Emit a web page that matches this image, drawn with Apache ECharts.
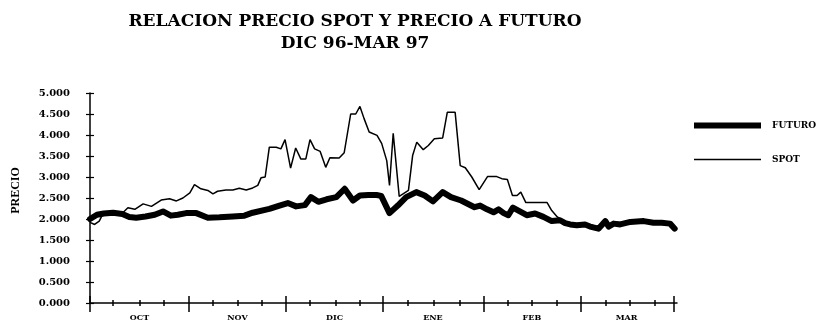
<!DOCTYPE html>
<html>
<head>
<meta charset="utf-8">
<title>Relacion precio spot y precio a futuro</title>
<script src="https://cdn.jsdelivr.net/npm/echarts@6/dist/echarts.min.js"></script>
<style>
  html, body { margin: 0; padding: 0; background: #fff; }
  #grafica { width: 821px; height: 324px; }
</style>
</head>
<body>
<div id="grafica"></div>
<script>
// [dia habil desde inicio de octubre, precio]
const futuro = [
  [0, 2.0], [1.5, 2.1], [3, 2.13], [5, 2.15], [7, 2.12], [8.5, 2.05], [10, 2.03], [12, 2.06],
  [14, 2.1], [15.8, 2.18], [17.5, 2.08], [19, 2.1], [20.8, 2.14], [23, 2.14], [25.5, 2.03],
  [28, 2.04], [30.9, 2.06], [33.4, 2.08], [35.2, 2.15], [38.8, 2.24], [41, 2.32], [42.8, 2.38],
  [44.6, 2.3], [46.5, 2.33], [47.8, 2.52], [49.4, 2.41], [51.2, 2.47], [53.3, 2.52], [55.1, 2.72],
  [56.9, 2.44], [58.4, 2.56], [60.2, 2.57], [62, 2.57], [63, 2.55], [64.8, 2.14], [66.6, 2.32],
  [68.4, 2.52], [70.6, 2.64], [72.4, 2.56], [74.2, 2.42], [76.3, 2.64], [78.1, 2.52], [80.3, 2.44],
  [83.2, 2.28], [84.4, 2.32], [85.9, 2.23], [87.3, 2.16], [88.4, 2.23], [89.5, 2.14], [90.5, 2.09],
  [91.5, 2.27], [92.7, 2.2], [94.5, 2.09], [96.3, 2.13], [98.1, 2.05], [99.9, 1.95], [101.7, 1.97],
  [102.8, 1.9], [103.9, 1.87], [105.3, 1.85], [107.1, 1.87], [108.2, 1.82], [110, 1.77], [111.5, 1.95],
  [112.2, 1.82], [113.3, 1.89], [114.7, 1.87], [116.9, 1.93], [119.8, 1.95], [121.9, 1.91],
  [123.7, 1.91], [125.5, 1.89], [126.5, 1.77]
]
const spot = [
  [0, 1.92], [1, 1.87], [2, 1.95], [2.6, 2.08], [4, 2.15], [6, 2.17], [7.1, 2.15], [8.2, 2.27],
  [9.7, 2.23], [11.5, 2.36], [13.3, 2.3], [15.4, 2.45], [17.2, 2.48], [18.7, 2.43], [20.1, 2.5],
  [21.6, 2.62], [22.6, 2.82], [24, 2.72], [25.5, 2.68], [26.6, 2.6], [27.6, 2.66], [29.4, 2.69],
  [30.9, 2.69], [32.3, 2.73], [33.8, 2.69], [35.2, 2.74], [36.3, 2.8], [37, 2.98], [37.9, 3.0],
  [38.8, 3.71], [40.3, 3.71], [41.3, 3.67], [42.2, 3.89], [43.4, 3.21], [44.5, 3.69], [45.6, 3.43],
  [46.7, 3.43], [47.6, 3.89], [48.6, 3.67], [49.8, 3.61], [51, 3.23], [51.9, 3.46], [53.9, 3.45],
  [55, 3.58], [56.4, 4.5], [57.5, 4.5], [58.4, 4.68], [59.3, 4.39], [60.4, 4.07], [62.1, 3.99],
  [63.1, 3.8], [64.2, 3.39], [64.8, 2.8], [65.6, 4.04], [66.9, 2.54], [68.9, 2.68], [69.8, 3.51],
  [70.7, 3.83], [72.1, 3.65], [73.2, 3.75], [74.5, 3.91], [76.3, 3.93], [77.3, 4.54], [79, 4.54],
  [80.1, 3.27], [81.2, 3.22], [82.6, 3.0], [84.2, 2.7], [86, 3.01], [88, 3.01], [89.1, 2.96],
  [90.3, 2.94], [91.4, 2.56], [92.4, 2.56], [93.2, 2.64], [94.3, 2.39], [96.3, 2.39], [98.9, 2.39],
  [99.9, 2.2], [101.1, 2.05], [102.8, 1.93], [104, 1.84], [105.5, 1.88], [107, 1.83], [108.5, 1.86],
  [110, 1.8], [111.5, 2.0], [112.5, 1.84], [114, 1.92], [116, 1.9], [118, 1.95], [120, 1.94],
  [122, 1.9], [124, 1.92], [125.5, 1.88], [126.5, 1.75]
]
const meses = ['OCT', 'NOV', 'DIC', 'ENE', 'FEB', 'MAR']
const limitesMes = [0, 21.4, 42.4, 63.4, 85.1, 106.1, 126.2] // rayas grandes entre meses
const centroMes = [10.7, 31.9, 52.9, 74.2, 95.6, 116.1] // donde va el nombre del mes
const semanas = [5.0, 10.8, 16.0, 26.6, 32.0, 37.2, 47.6, 53.2, 58.4, 68.7, 74.3, 80.1,
  90.3, 95.6, 100.9, 111.5, 116.7, 122.1]

const serif = 'DejaVu Serif'
const chart = echarts.init(document.getElementById('grafica'))

// eje x "invisible" solo para las rayitas que cruzan la linea
function ejeRayas(valores, largo, adentro) {
  return {
    type: 'value', position: 'bottom', min: 0, max: 127,
    axisLine: { show: false },
    axisTick: { show: true, customValues: valores, inside: adentro, length: largo, lineStyle: { color: '#000', width: 1.5 } },
    axisLabel: { show: false },
    splitLine: { show: false }
  }
}

const option = {
  animation: false,
  backgroundColor: '#fff',
  title: {
    text: 'RELACION PRECIO SPOT Y PRECIO A FUTURO\nDIC 96-MAR 97',
    left: 350,
    top: 6,
    textAlign: 'center',
    textStyle: { fontFamily: serif, fontWeight: 'bold', fontSize: 17, lineHeight: 22, color: '#000' }
  },
  legend: [
    {
      data: ['FUTURO'], left: 694, top: 121, padding: 0, orient: 'vertical', selectedMode: false,
      icon: 'rect', itemWidth: 67, itemHeight: 6,
      textStyle: { fontFamily: serif, fontWeight: 'bold', fontSize: 9, color: '#000', padding: [0, 0, 0, 6] }
    },
    {
      data: ['SPOT'], left: 694, top: 155, padding: 0, orient: 'vertical', selectedMode: false,
      icon: 'rect', itemWidth: 67, itemHeight: 1.5,
      textStyle: { fontFamily: serif, fontWeight: 'bold', fontSize: 9, color: '#000', padding: [0, 0, 0, 6] }
    }
  ],
  grid: { left: 90, right: 144, top: 93, bottom: 21 },
  xAxis: [
    {
      type: 'value', position: 'bottom', min: 0, max: 127,
      axisLine: { show: true, lineStyle: { color: '#000', width: 1.5 } },
      axisTick: { show: true, customValues: limitesMes, length: 9, lineStyle: { color: '#000', width: 1.5 } },
      axisLabel: {
        customValues: centroMes,
        margin: 11,
        fontFamily: serif, fontWeight: 'bold', fontSize: 8, color: '#000',
        formatter: function(v) {
          let k = 0
          centroMes.forEach((c, i) => { if (Math.abs(c - v) < Math.abs(centroMes[k] - v)) k = i })
          return meses[k]
        }
      },
      splitLine: { show: false }
    },
    ejeRayas(limitesMes, 7, true),
    ejeRayas(semanas, 3, false),
    ejeRayas(semanas, 3, true)
  ],
  yAxis: [
    {
      type: 'value', position: 'left', min: 0, max: 5, interval: 0.5,
      name: 'PRECIO',
      nameLocation: 'middle',
      nameRotate: 90,
      nameGap: 68,
      nameTextStyle: { fontFamily: 'Liberation Serif', fontWeight: 'bold', fontSize: 12, color: '#000', padding: [0, 0, 0, 15] },
      axisLine: { show: true, lineStyle: { color: '#000', width: 1.5 } },
      axisTick: { show: true, length: 4, lineStyle: { color: '#000', width: 1.2 } },
      axisLabel: {
        margin: 20,
        fontFamily: serif, fontWeight: 'bold', fontSize: 10, color: '#000',
        formatter: function(v) { return v.toFixed(3) }
      },
      splitLine: { show: false }
    },
    {
      type: 'value', position: 'left', min: 0, max: 5, interval: 0.5,
      axisLine: { show: false },
      axisTick: { show: true, inside: true, length: 4, lineStyle: { color: '#000', width: 1.2 } },
      axisLabel: { show: false },
      splitLine: { show: false }
    }
  ],
  series: [
    {
      name: 'SPOT', type: 'line', data: spot, symbol: 'none',
      itemStyle: { color: '#000' },
      lineStyle: { color: '#000', width: 1.5 }
    },
    {
      name: 'FUTURO', type: 'line', data: futuro, symbol: 'none',
      itemStyle: { color: '#000' },
      lineStyle: { color: '#000', width: 6, join: 'round', cap: 'round' }
    }
  ]
}

chart.setOption(option)
</script>
</body>
</html>
